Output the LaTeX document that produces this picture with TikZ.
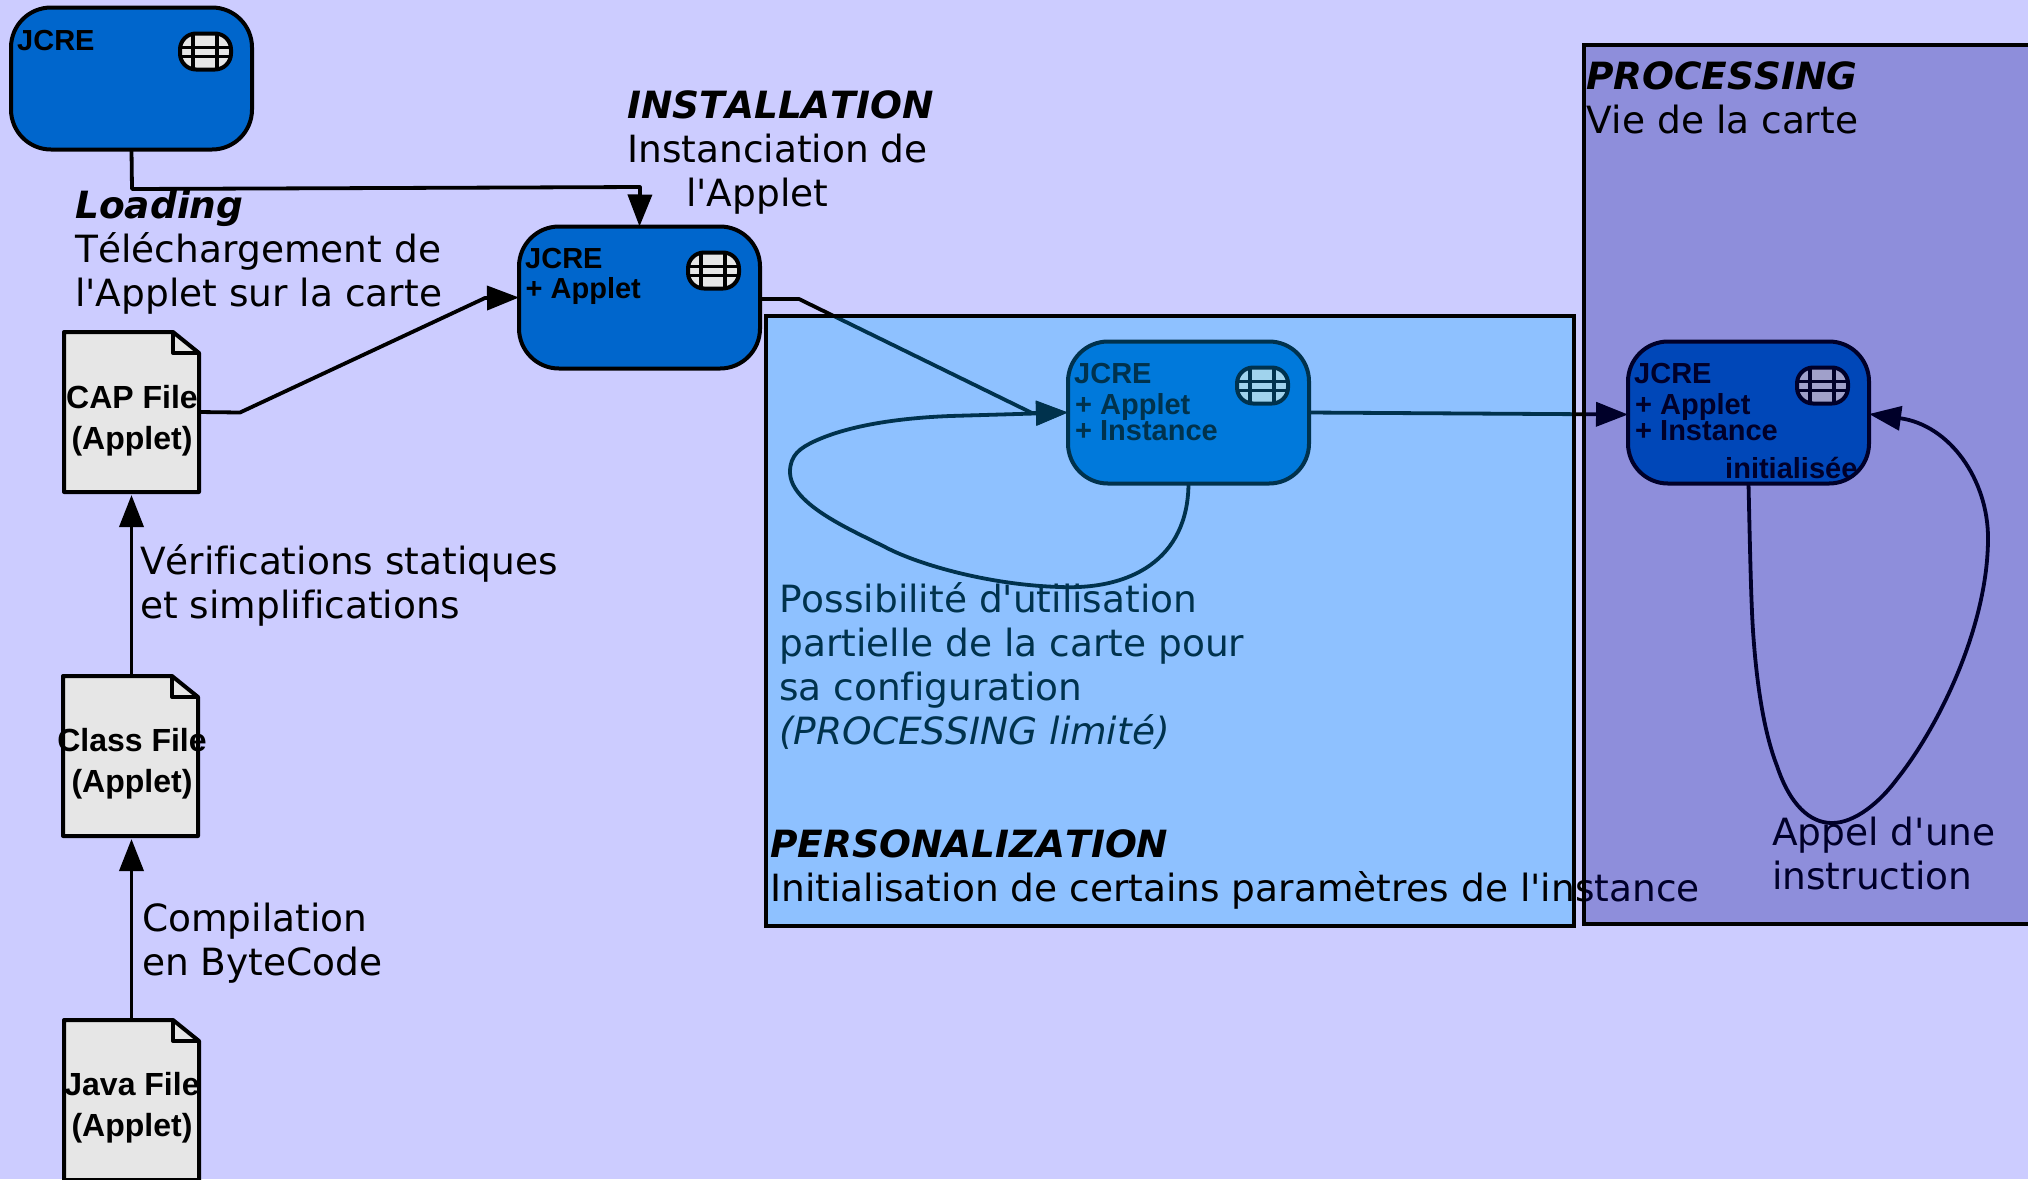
\documentclass[tikz,border=0pt]{standalone}
\usepackage{fontspec}
\newfontfamily\dvfont[Ligatures=NoCommon,Kerning=Off]{DejaVu Sans}
\newfontfamily\libfont{Liberation Sans}
\usetikzlibrary{arrows.meta,calc}
\definecolor{pagebg}{HTML}{CCCCFF}
\definecolor{cardblue}{HTML}{0066CC}
\definecolor{paper}{HTML}{E6E6E6}
\definecolor{persotint}{rgb}{0,0.66,1}
\definecolor{proctint}{rgb}{0,0,0.54}
\tikzset{
  x=1pt,y=-1pt,
  conn/.style={line width=3.8pt,line join=round},
  tip/.style={-{Triangle[length=32pt,width=24pt]}},
  card/.style={draw=black,line width=4pt,fill=cardblue,rounded corners=40pt,minimum width=241pt,minimum height=142pt,inner sep=0pt,outer sep=0pt},
  docbox/.style={minimum width=135pt,minimum height=160pt,inner sep=0pt,outer sep=0pt},
  doctext/.style={font=\libfont\bfseries\fontsize{32}{41}\selectfont,align=center,inner sep=0pt,anchor=base},
  cardtext/.style={font=\libfont\bfseries\fontsize{29}{29}\selectfont,inner sep=0pt,anchor=base west},
  label/.style={font=\dvfont\fontsize{37.5}{44}\selectfont,inner sep=0pt,anchor=base west,align=left},
  tintbox/.style={fill opacity=0.3,draw opacity=1,draw=black,line width=4pt},
  chip/.pic={
    \begin{scope}
      \path[fill=paper,rounded corners=16pt] (0,0) rectangle (51,36);
      \begin{scope}
        \clip[rounded corners=16pt] (0,0) rectangle (51,36);
        \draw[line width=3.4pt] (13,0)--(13,36) (37,0)--(37,36) (0,14)--(51,14) (0,23)--(51,23);
      \end{scope}
      \draw[line width=4pt,rounded corners=16pt] (0,0) rectangle (51,36);
    \end{scope}
  }
}
\newcommand{\docfile}[3]{% name, left, top
  \draw[line width=4pt,line join=round,fill=paper,shift={(#2,#3)}]
    (0,160)--(0,0)--(109,0)--(135,21)--(135,160)--cycle;
  \draw[line width=4pt,line join=round,shift={(#2,#3)}] (109,0)--(109,21)--(135,21);
  \node[docbox,anchor=north west] (#1) at (#2,#3) {};
}
\begin{document}
\begin{tikzpicture}
\useasboundingbox (0,0) rectangle (2028,1179);
\clip (0,0) rectangle (2028,1179);
\fill[pagebg] (0,0) rectangle (2028,1179);

% files
\docfile{capdoc}{64}{332}
\docfile{classdoc}{63}{676}
\docfile{javadoc}{64}{1020}
\node[doctext] (captxt) at (132,449) {CAP File\\(Applet)};
\node[doctext] (classtxt) at (132,792) {Class File\\(Applet)};
\node[doctext] (javatxt) at (132,1136.5) {Java File\\(Applet)};

% cards
\node[card,anchor=north west] (c1) at (11,7.5) {};
\node[card,anchor=north west] (c2) at (519,226.5) {};
\node[card,anchor=north west] (c3) at (1068,341.5) {};
\node[card,anchor=north west] (c4) at (1628,341.5) {};
\foreach \c in {c1,c2,c3,c4}{
  \pic at ([shift={(169,26)}]\c.north west) {chip};
}
\node[cardtext] (c1a) at ([shift={(6,43)}]c1.north west) {JCRE};
\node[cardtext] (c2a) at ([shift={(6,42)}]c2.north west) {JCRE};
\node[cardtext] (c2b) at ([shift={(6.5,72)}]c2.north west) {+ Applet};
\node[cardtext] (c3a) at ([shift={(6,42)}]c3.north west) {JCRE};
\node[cardtext] (c3b) at ([shift={(7,72.5)}]c3.north west) {+ Applet};
\node[cardtext] (c3c) at ([shift={(7,99)}]c3.north west) {+ Instance};
\node[cardtext] (c4a) at ([shift={(6,42)}]c4.north west) {JCRE};
\node[cardtext] (c4b) at ([shift={(7,72.5)}]c4.north west) {+ Applet};
\node[cardtext] (c4c) at ([shift={(7,99)}]c4.north west) {+ Instance};
\node[cardtext] (c4d) at (1725,478) {initialisée};

% bend points
\coordinate (a1) at (132,189);
\coordinate (a2) at (640,187);
\coordinate (b1) at (240,412.5);
\coordinate (b2) at (485,298);
\coordinate (d1) at (799,299);
\coordinate (d2) at (1032,413);

% connectors
\draw[conn,tip] (c1.south)--(a1)--(a2)--(c2.north);
\draw[conn,tip] (capdoc.east)--(b1)--(b2)--(c2.west);
\draw[conn,tip] (c2.east |- d1)--(d1)--(d2)--(c3.west);
\draw[conn,tip] (c3.east)--([shift={(0,2)}]c4.west);
\draw[conn,tip,shorten >=3pt] (classdoc.north -| capdoc.north)--(capdoc.south);
\draw[conn,tip,shorten >=3pt] (javadoc.north)--(classdoc.south -| javadoc.north);
\draw[conn,tip] (c3.south) .. controls (1188,560) and (1130,590) .. (1060,587)
  .. controls (990,585) and (920,565) .. (887,548)
  .. controls (855,531.5) and (790,505) .. (790,472)
  .. controls (790,455) and (800,448) .. (815,441)
  .. controls (850,425) and (900,418) .. (950,416)
  -- (c3.west);
\draw[conn,tip] (c4.south) .. controls (1750,550) and (1751,600) .. (1753,631)
  .. controls (1757,690) and (1765,735) .. (1777,766)
  .. controls (1790,805) and (1810,823) .. (1832,823)
  .. controls (1855,823) and (1880,802) .. (1897,779)
  .. controls (1940,725) and (1988,625) .. (1988,538)
  .. controls (1988,480) and (1950,425) .. ([shift={(0,1.5)}]c4.east);

% labels below the tints
\node[label] (loadlbl) at (75,306) {\textbf{\textit{Loading}}\\Téléchargement de\\l'Applet sur la carte};
\node[label] (instlbl) at (627,206) {\textbf{\textit{INSTALLATION}}\\Instanciation de\\\hspace*{59pt}l'Applet};
\node[label] (verilbl) at (140,618.5) {Vérifications statiques\\et simplifications};
\node[label] (complbl) at (142,975.5) {Compilation\\en ByteCode};
\node[label] (posslbl) at (779,744.5) {Possibilité d'utilisation\\partielle de la carte pour\\sa configuration\\\textit{(PROCESSING limité)}};
\node[label] (appellbl) at (1772,889) {Appel d'une\\instruction};

% personalization tint and its label
\draw[tintbox,fill=persotint] (766,316) rectangle (1574,926);
\node[label] (perslbl) at (770,901) {\textbf{\textit{PERSONALIZATION}}\\Initialisation de certains paramètres de l'instance};

% processing tint and its label
\draw[tintbox,fill=proctint] (1584,45) rectangle (2040,924);
\node[label] (proclbl) at (1586,133) {\textbf{\textit{PROCESSING}}\\Vie de la carte};
\end{tikzpicture}
\end{document}
